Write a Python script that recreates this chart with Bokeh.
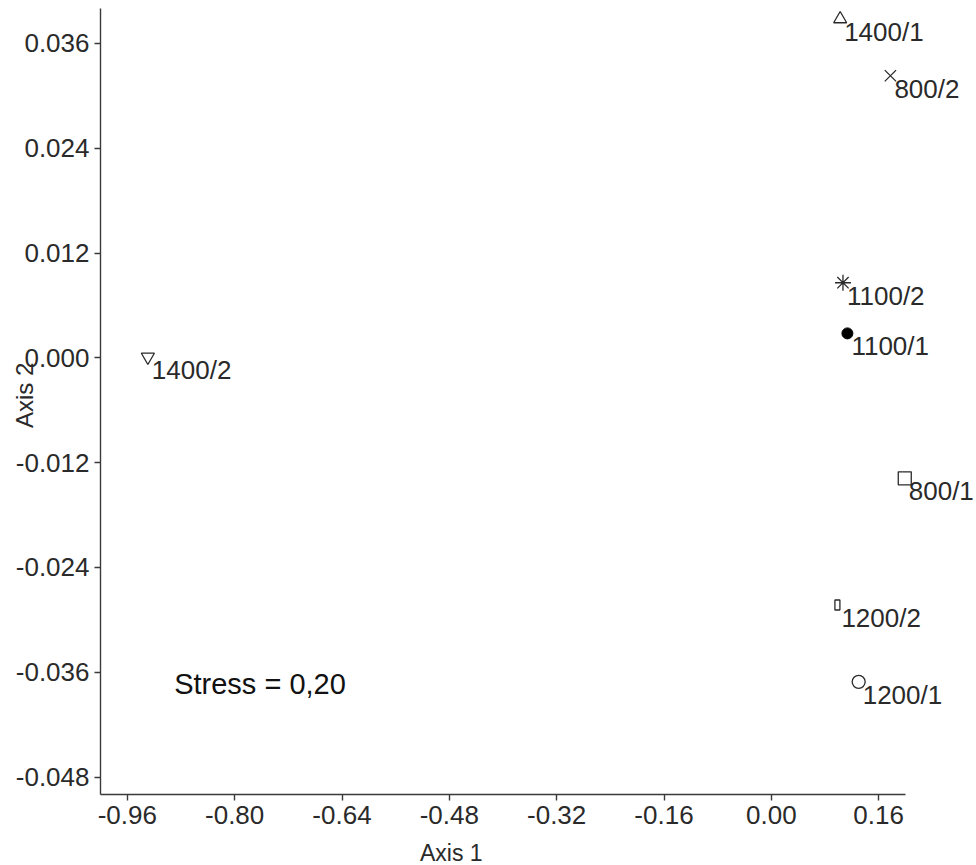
import math
from bokeh.plotting import figure
from bokeh.models import (FixedTicker, NumeralTickFormatter, Label, LabelSet,
                          ColumnDataSource, Range1d, LinearAxis)
from bokeh.embed import file_html
from bokeh.resources import INLINE
from bokeh.core.properties import value

# ---- data ----
labels = ["1400/1", "800/2", "1100/2", "1100/1", "1400/2", "800/1", "1200/2", "1200/1"]
axis1 = [0.1026, 0.1775, 0.1068, 0.1134, -0.9294, 0.1989, 0.0985, 0.1302]
axis2 = [0.0388, 0.0323, 0.0086, 0.0028, 0.0001, -0.0138, -0.0283, -0.0371]
markers = ["triangle", "x", "asterisk", "dot_filled", "inverted_triangle", "square", "rect", "circle"]
x_ticks = [-0.96, -0.80, -0.64, -0.48, -0.32, -0.16, 0.00, 0.16]
y_ticks = [-0.048, -0.036, -0.024, -0.012, 0.000, 0.012, 0.024, 0.036]
stress_text = "Stress = 0,20"
x_title = "Axis 1"
y_title = "Axis 2"

# axis extents (data) and the page margins around them (pixels)
X0, X1 = -1.0, 0.2
Y0, Y1 = -0.05, 0.04
W, H = 976, 865
LEFT, RIGHT, TOP, BOTTOM = 100, 71, 8, 71
kx = (W - LEFT - RIGHT) / (X1 - X0)
ky = (H - TOP - BOTTOM) / (Y1 - Y0)

FONT = "Liberation Sans"
INK = "#2a2a2a"

p = figure(frame_width=W, frame_height=H, min_border=0,
           min_border_left=0, min_border_right=0, min_border_top=0, min_border_bottom=0,
           x_range=Range1d(X0 - LEFT / kx, X1 + RIGHT / kx),
           y_range=Range1d(Y0 - BOTTOM / ky, Y1 + TOP / ky),
           x_axis_location=None, y_axis_location=None,
           output_backend="svg", toolbar_location=None,
           background_fill_color="white", border_fill_color="white")
p.outline_line_color = None
p.grid.visible = False

xaxis = LinearAxis(fixed_location=Y0, bounds=(X0, X1),
                   ticker=FixedTicker(ticks=x_ticks),
                   formatter=NumeralTickFormatter(format="0.00"))
yaxis = LinearAxis(fixed_location=X0, bounds=(Y0, Y1),
                   ticker=FixedTicker(ticks=y_ticks),
                   formatter=NumeralTickFormatter(format="0.000"))
for ax in (xaxis, yaxis):
    ax.axis_line_color = "#3a3a3a"
    ax.axis_line_width = 1.4
    ax.major_tick_line_color = "#3a3a3a"
    ax.major_tick_line_width = 1.4
    ax.major_tick_out = 6
    ax.major_tick_in = 0
    ax.minor_tick_line_color = None
    ax.major_label_text_font = FONT
    ax.major_label_text_font_size = "26px"
    ax.major_label_text_color = INK
xaxis.major_label_standoff = 5
yaxis.major_label_standoff = 5
p.add_layout(xaxis, "below")
p.add_layout(yaxis, "left")

# ---- markers ----
for xi, yi, m in zip(axis1, axis2, markers):
    if m == "rect":
        p.rect(x=[xi], y=[yi], width=5, height=10, width_units="screen",
               height_units="screen", fill_color=None, line_color=INK, line_width=1.3)
    elif m == "dot_filled":
        p.scatter(x=[xi], y=[yi], marker="circle", size=11,
                  fill_color="black", line_color="black")
    elif m in ("x", "asterisk"):
        p.scatter(x=[xi], y=[yi], marker=m, size=16,
                  fill_color=None, line_color=INK, line_width=1.3)
    else:
        p.scatter(x=[xi], y=[yi], marker=m, size=13,
                  fill_color=None, line_color=INK, line_width=1.3)

src = ColumnDataSource(dict(x=axis1, y=axis2, t=labels))
p.add_layout(LabelSet(x="x", y="y", text="t", source=src, x_offset=4, y_offset=-13,
                      text_font=value(FONT), text_font_size=value("26px"),
                      text_color=INK, text_align="left", text_baseline="middle"))

p.add_layout(Label(x=-0.8902, y=-0.0374, text=stress_text, text_font=FONT,
                   text_font_size="29px", text_color="#111111",
                   text_align="left", text_baseline="middle"))

# axis titles (overlapping the tick labels as in the reference)
p.add_layout(Label(x=-0.477, y=-0.0567, text=x_title, text_font=FONT,
                   text_font_size="23px", text_color=INK,
                   text_align="center", text_baseline="middle"))
p.add_layout(Label(x=-1.1134, y=-0.0043, text=y_title, text_font=FONT,
                   text_font_size="24px", text_color=INK, angle=math.pi / 2,
                   text_align="center", text_baseline="middle"))

open("out.html", "w").write(file_html(p, INLINE))
